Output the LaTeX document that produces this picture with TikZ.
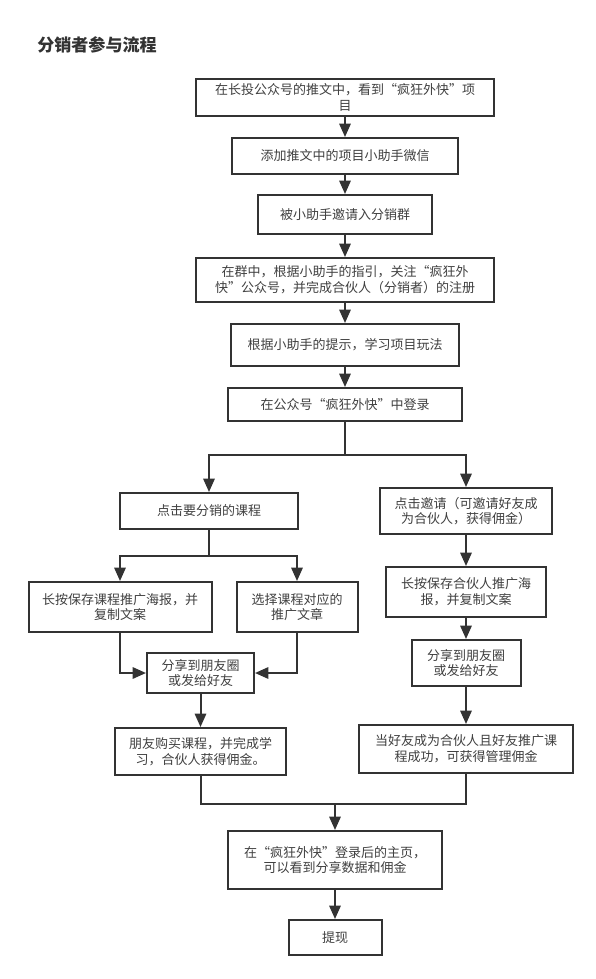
\documentclass[tikz,border=0pt]{standalone}
\usepackage{fontspec}
\newfontfamily\cjk{Noto Sans CJK SC}
\usetikzlibrary{arrows.meta}
\definecolor{ln}{HTML}{333333}
\definecolor{tx}{HTML}{404040}
\begin{document}
\begin{tikzpicture}[x=0.75pt,y=-0.75pt,
  box/.style 2 args={draw=ln, line width=1.5pt, fill=white, inner sep=0pt, align=center,
    text=tx, font=\cjk\fontsize{9.75pt}{11.8pt}\selectfont,
    minimum width=#1*0.75pt, minimum height=#2*0.75pt},
  arr/.style={draw=ln, line width=1.5pt, -{Triangle[length=10pt,width=8.5pt]}},
  plain/.style={draw=ln, line width=1.5pt}]
\useasboundingbox[fill=white] (0,0) rectangle (596,979);
\node[anchor=west, inner sep=0pt, font=\cjk\bfseries\fontsize{12.8pt}{15pt}\selectfont, text=ln] (title) at (37,45) {分销者参与流程};
% main column
\node[box={298}{37}] (b1) at (345,97.5) {在长投公众号的推文中，看到“疯狂外快”项\\目};
\node[box={226}{36}] (b2) at (345,156) {添加推文中的项目小助手微信};
\node[box={174}{39}] (b3) at (345,214.5) {被小助手邀请入分销群};
\node[box={298}{44}] (b4) at (345,280) {在群中，根据小助手的指引，关注“疯狂外\\快”公众号，并完成合伙人（分销者）的注册};
\node[box={228}{42}] (b5) at (345,345) {根据小助手的提示，学习项目玩法};
\node[box={234}{33}] (b6) at (345,404.5) {在公众号“疯狂外快”中登录};
% left branch
\node[box={178}{36}] (L1) at (209,511) {点击要分销的课程};
\node[box={183}{50}] (L2) at (120,607) {长按保存课程推广海报，并\\复制文案};
\node[box={121}{50}] (L3) at (297,607) {选择课程对应的\\推广文章};
\node[box={107}{40}] (L4) at (200.5,673) {分享到朋友圈\\或发给好友};
\node[box={171}{47}] (L5) at (200.5,751.5) {朋友购买课程，并完成学\\习，合伙人获得佣金。};
% right branch
\node[box={172}{46}] (R1) at (466,511) {点击邀请（可邀请好友成\\为合伙人，获得佣金）};
\node[box={160}{50}] (R2) at (466,592) {长按保存合伙人推广海\\报，并复制文案};
\node[box={109}{46}] (R3) at (466,663) {分享到朋友圈\\或发给好友};
\node[box={214}{48}] (R4) at (466,749) {当好友成为合伙人且好友推广课\\程成功，可获得管理佣金};
% final
\node[box={214}{58}] (F1) at (335,860) {在“疯狂外快”登录后的主页，\\可以看到分享数据和佣金};
\node[box={93}{35}] (F2) at (335,937.5) {提现};
% junction points
\coordinate (sp) at (345,455);
\coordinate (ls) at (209,556);
\coordinate (mg) at (335,804);
% connectors
\draw[arr] (b1.south) -- (b2.north);
\draw[arr] (b2.south) -- (b3.north);
\draw[arr] (b3.south) -- (b4.north);
\draw[arr] (b4.south) -- (b5.north);
\draw[arr] (b5.south) -- (b6.north);
\draw[plain] (b6.south) -- (sp);
\draw[arr] (sp) -| (L1.north);
\draw[arr] (sp) -| (R1.north);
\draw[plain] (L1.south) -- (ls);
\draw[arr] (ls) -| (L2.north);
\draw[arr] (ls) -| (L3.north);
\draw[arr] (L2.south) |- (L4.west);
\draw[arr] (L3.south) |- (L4.east);
\draw[arr] (L4.south) -- (L5.north);
\draw[arr] (R1.south) -- (R2.north);
\draw[arr] (R2.south) -- (R3.north);
\draw[arr] (R3.south) -- (R4.north);
\draw[plain] (L5.south) |- (mg);
\draw[plain] (R4.south) |- (mg);
\draw[arr] (mg) -- (F1.north);
\draw[arr] (F1.south) -- (F2.north);
\end{tikzpicture}
\end{document}
